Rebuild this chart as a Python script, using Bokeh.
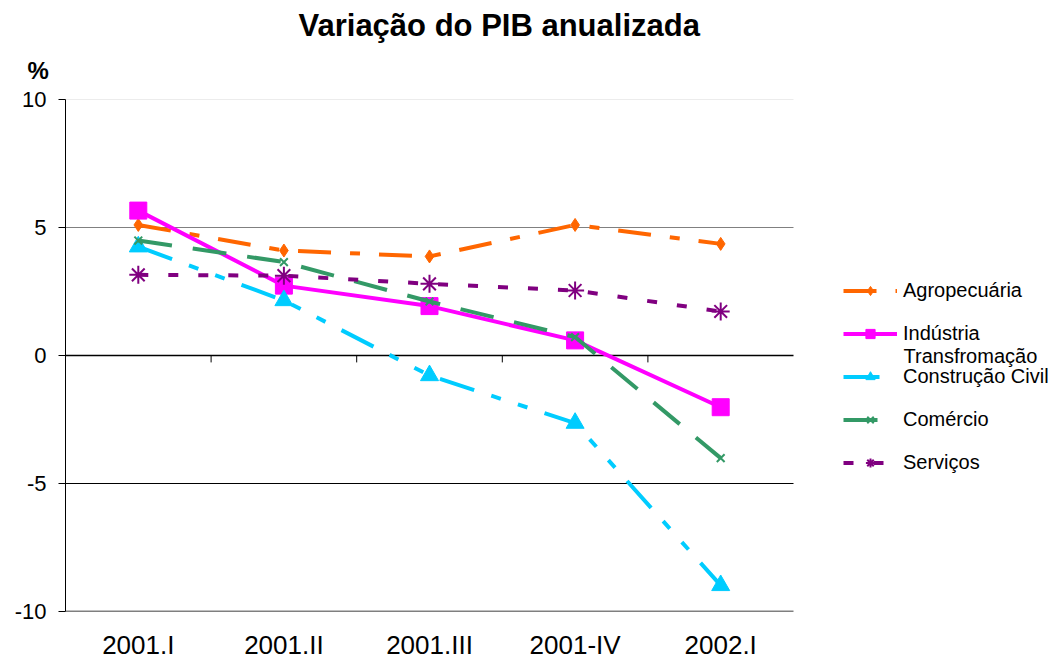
from bokeh.plotting import figure
from bokeh.models import Legend, LegendItem, Label, Title, FixedTicker, Range1d
from bokeh.embed import file_html
from bokeh.resources import INLINE

categories = ["2001.I", "2001.II", "2001.III", "2001-IV", "2002.I"]
agropecuaria = [5.1, 4.1, 3.87, 5.1, 4.36]
industria = [5.66, 2.73, 1.93, 0.59, -2.02]
construcao = [4.25, 2.15, -0.78, -2.64, -8.98]
comercio = [4.49, 3.65, 2.11, 0.72, -4.01]
servicos = [3.15, 3.12, 2.8, 2.54, 1.72]
y_ticks = [-10, -5, 0, 5, 10]

FONT = "Liberation Sans"
n = len(categories)
xs = [i + 0.5 for i in range(n)]

W, H = 1050, 662
LEFT, PLOT_RIGHT = 65, 793          # plotting area in pixels
x_end = n * (W - LEFT) / (PLOT_RIGHT - LEFT)   # frame extends under the legend area

p = figure(width=W, height=H, x_range=Range1d(0, x_end), y_range=Range1d(-10, 10),
           output_backend="svg", toolbar_location=None,
           min_border_left=LEFT, min_border_right=0, min_border_top=99, min_border_bottom=51)
p.outline_line_color = None
p.background_fill_color = "white"
p.border_fill_color = "white"

p.title.text = "Variação do PIB anualizada"
p.title.align = "left"
p.title.offset = 233
p.title.text_font = FONT
p.title.text_font_size = "31px"
p.title.text_font_style = "bold"
p.title.text_color = "black"
p.title.standoff = 2

p.add_layout(Title(text="%", align="left", offset=-38, vertical_align="top",
                   text_font=FONT, text_font_size="24px", text_font_style="bold",
                   text_color="black", standoff=27), "above")

# axes
p.xgrid.grid_line_color = None
p.ygrid.grid_line_color = None
p.yaxis.ticker = FixedTicker(ticks=y_ticks)
p.yaxis.major_label_overrides = {v: str(v) for v in y_ticks}
p.yaxis.minor_tick_line_color = None
p.yaxis.major_tick_out = 7
p.yaxis.major_tick_in = 0
p.yaxis.major_label_standoff = 12
p.yaxis.major_label_text_font = FONT
p.yaxis.major_label_text_font_size = "22px"
p.yaxis.major_label_text_color = "black"
p.yaxis.axis_line_color = "black"
p.yaxis.major_tick_line_color = "black"

p.xaxis.ticker = FixedTicker(ticks=xs)
p.xaxis.major_label_overrides = {x: c for x, c in zip(xs, categories)}
p.xaxis.minor_tick_line_color = None
p.xaxis.major_tick_line_color = None
p.xaxis.axis_line_color = None
p.xaxis.major_label_standoff = 12
p.xaxis.major_label_text_font = FONT
p.xaxis.major_label_text_font_size = "26px"
p.xaxis.major_label_text_color = "black"

# horizontal gridlines, limited to the plotting area
levels = [10, 5, 0, -5, -10]
colors = ["#d9d9d9", "#808080", "#000000", "#000000", "#000000"]
widths = [1, 1, 1.5, 1, 1.5]
p.segment(x0=[0] * len(levels), y0=levels, x1=[n] * len(levels), y1=levels,
          line_color=colors, line_width=widths)
# category tick marks on the zero line
bounds = list(range(1, n))
p.segment(x0=bounds, y0=[0] * len(bounds), x1=bounds, y1=[-0.27] * len(bounds),
          line_color="black", line_width=1)

series = [
    ("Agropecuária", agropecuaria, "#FF6600", "33 19 10 19", "diamond", 13, 1),
    ("Indústria", industria, "#FF00FF", "solid", "square", 17, 1),
    ("Construção Civil", construcao, "#00CCFF", "36 18 10 18 10 18", "triangle", 18, 1),
    ("Comércio", comercio, "#339966", "34 21", "x", 11, 2),
    ("Serviços", servicos, "#800080", "10 20", "asterisk", 18, 2),
]

items = []
for name, ys, color, dash, marker, size, mlw in series:
    ln = p.line(xs, ys, line_color=color, line_width=4, line_dash=dash)
    sc = p.scatter(xs, ys, marker=marker, size=size, line_color=color, fill_color=color,
                   line_width=mlw)
    items.append(LegendItem(label=name, renderers=[ln, sc]))

legend = Legend(items=items, location=(843 - LEFT, 137), orientation="vertical",
                glyph_width=54, glyph_height=23, label_height=23, spacing=20,
                label_standoff=6, padding=0, margin=0,
                border_line_color=None, background_fill_alpha=0,
                label_text_font=FONT, label_text_font_size="20px", label_text_color="black")
p.add_layout(legend)

# second line of the "Indústria Transfromação" legend label
p.add_layout(Label(x=n, y=0, x_offset=903 - PLOT_RIGHT, text="Transfromação",
                   text_font=FONT, text_font_size="20px", text_color="black",
                   text_baseline="middle", text_align="left"))

open("out.html", "w").write(file_html(p, INLINE))
